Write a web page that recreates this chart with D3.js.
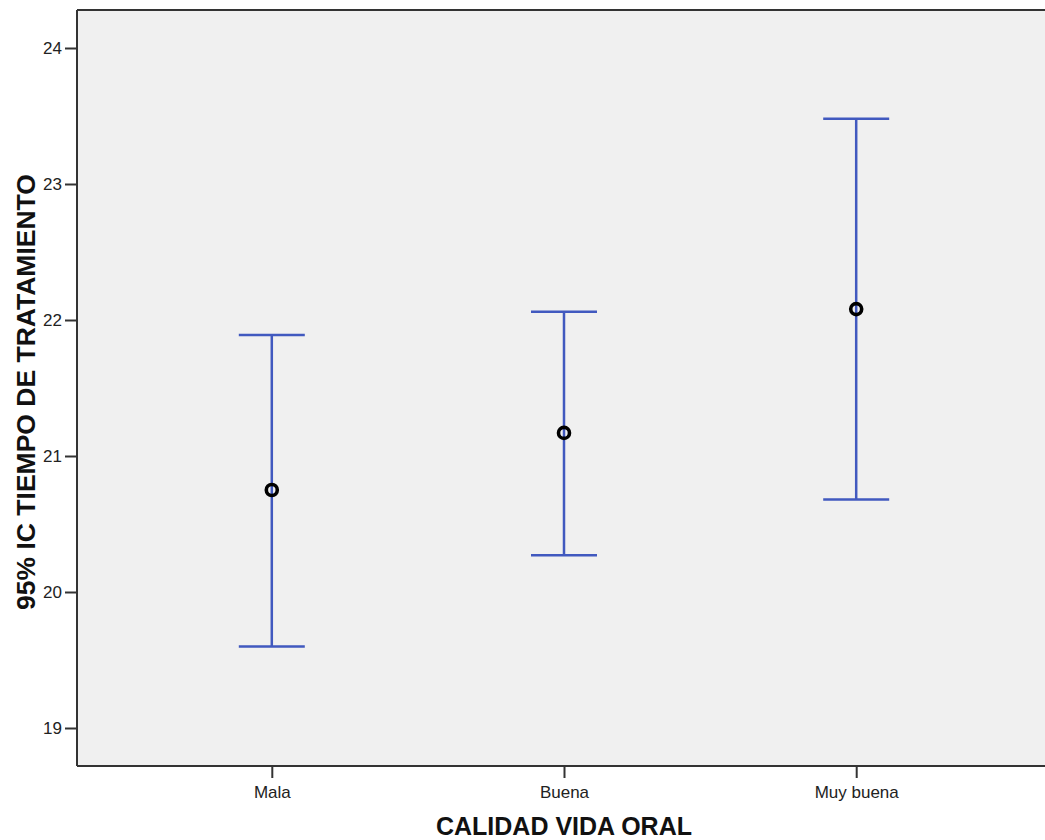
<!DOCTYPE html>
<html><head><meta charset="utf-8">
<script src="https://cdn.jsdelivr.net/npm/d3@7"></script>
<style>body{margin:0;background:#fff}svg{display:block}</style>
</head><body>
<script>
const categories = ["Mala", "Buena", "Muy buena"];
const means = [20.75, 21.17, 22.08];
const lowerCI = [19.60, 20.27, 20.68];
const upperCI = [21.89, 22.06, 23.48];
const yTicks = [19, 20, 21, 22, 23, 24];
const xTitle = "CALIDAD VIDA ORAL";
const yTitle = "95% IC TIEMPO DE TRATAMIENTO";

const W = 1045, H = 840;
const plot = {left: 77, top: 10, right: 1051, bottom: 766};
const svg = d3.select("body").append("svg").attr("width", W).attr("height", H);

const x = d3.scalePoint().domain(categories).range([plot.left, plot.right]).padding(2/3);
const y = d3.scaleLinear().domain([19 - 38/136, 24 + 38/136]).range([plot.bottom, plot.top]);

svg.append("rect").attr("x", plot.left).attr("y", plot.top)
  .attr("width", W - plot.left + 5).attr("height", plot.bottom - plot.top)
  .attr("fill", "#f0f0f0");
svg.append("line").attr("x1", plot.left).attr("x2", W).attr("y1", plot.top).attr("y2", plot.top)
  .attr("stroke", "#333").attr("stroke-width", 2);

const yAxis = svg.append("g").attr("transform", `translate(${plot.left},0)`)
  .call(d3.axisLeft(y).tickValues(yTicks).tickSize(12).tickPadding(3).tickFormat(d3.format("d")));
const xAxis = svg.append("g").attr("transform", `translate(0,${plot.bottom})`)
  .call(d3.axisBottom(x).tickSize(12).tickPadding(8));
[yAxis, xAxis].forEach(g => {
  g.select(".domain").attr("stroke", "#333").attr("stroke-width", 2);
  g.selectAll(".tick line").attr("stroke", "#333").attr("stroke-width", 2);
  g.selectAll("text").attr("font-family", "Liberation Sans, Arial, sans-serif")
    .attr("font-size", 17).attr("fill", "#222");
});
yAxis.select(".domain").attr("d", `M0,${plot.top}V${plot.bottom}`);
xAxis.select(".domain").attr("d", `M${plot.left},0H${W}`);

const data = categories.map((c, i) => ({c, m: means[i], lo: lowerCI[i], hi: upperCI[i]}));
const col = "#4159bf";
const cap = 33;
const g = svg.append("g");
data.forEach(d => {
  const cx = x(d.c);
  g.append("line").attr("x1", cx).attr("x2", cx).attr("y1", y(d.hi)).attr("y2", y(d.lo))
    .attr("stroke", col).attr("stroke-width", 2.5);
  [d.hi, d.lo].forEach(v => g.append("line").attr("x1", cx - cap).attr("x2", cx + cap)
    .attr("y1", y(v)).attr("y2", y(v)).attr("stroke", col).attr("stroke-width", 2.5));
  g.append("circle").attr("cx", cx).attr("cy", y(d.m)).attr("r", 5.5)
    .attr("fill", "none").attr("stroke", "#000").attr("stroke-width", 3.6);
});

svg.append("text").attr("x", 564).attr("y", 835).attr("text-anchor", "middle")
  .attr("font-family", "Liberation Sans, Arial, sans-serif").attr("font-weight", "bold")
  .attr("font-size", 25).attr("fill", "#111").text(xTitle);
svg.append("text").attr("transform", `translate(35,392) rotate(-90)`).attr("text-anchor", "middle")
  .attr("font-family", "Liberation Sans, Arial, sans-serif").attr("font-weight", "bold")
  .attr("font-size", 26.5).attr("fill", "#111").text(yTitle);
</script>
</body></html>
